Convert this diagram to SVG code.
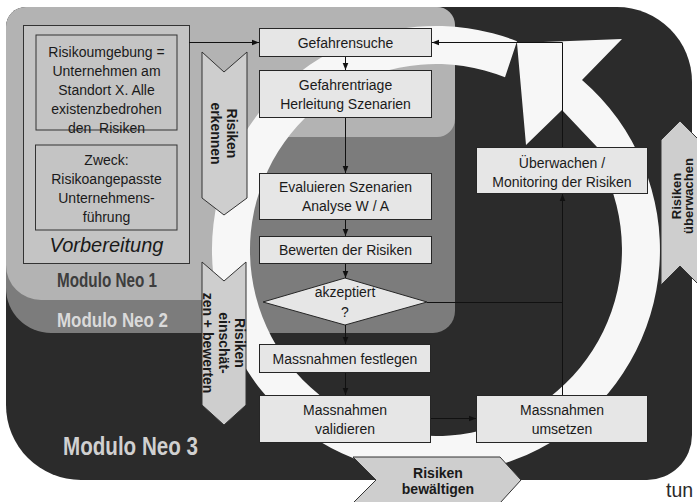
<svg xmlns="http://www.w3.org/2000/svg" width="697" height="502" viewBox="0 0 697 502">
<defs>
<style>
.t{font-family:"Liberation Sans",Arial,sans-serif;font-size:14px;fill:#1a1a1a;text-anchor:middle;dominant-baseline:central}
.b{font-weight:bold}
.box{fill:#e6e6e6;stroke:#262626;stroke-width:1}
.lbox{fill:#c4c4c4;stroke:#333;stroke-width:1}
.chev{fill:#cecece;stroke:#333;stroke-width:1}
.con{fill:none;stroke:#111;stroke-width:1}
.arr{marker-end:url(#ah)}
.neo{font-family:"Liberation Sans",Arial,sans-serif;font-weight:bold}
.ring{fill:#f7f7f7}
</style>
<marker id="ah" viewBox="0 0 10 10" refX="10" refY="5" markerWidth="7" markerHeight="7" orient="auto" markerUnits="userSpaceOnUse">
<path d="M0,1 L10,5 L0,9 Z" fill="#111"/>
</marker>
</defs>
<rect width="697" height="502" fill="#ffffff"/>

<g id="neo3">
<path d="M26,7 H617 A75,75 0 0 1 692,82 V435 A45,45 0 0 1 647,480 H81 A75,75 0 0 1 6,405 V27 A20,20 0 0 1 26,7 Z" fill="#2b2b2b"/>
</g>
<g id="neo2">
<path d="M26,7 H435 A20,20 0 0 1 455,27 V311 A22,22 0 0 1 433,333 H51 A45,45 0 0 1 6,288 V27 A20,20 0 0 1 26,7 Z" fill="#7c7c7c"/>
</g>
<g id="neo1">
<path d="M26,7 H437 A18,18 0 0 1 455,25 V119 A18,18 0 0 1 437,137 H250 V300 H41 A35,35 0 0 1 6,265 V27 A20,20 0 0 1 26,7 Z" fill="#b3b3b3"/>
</g>

<g id="cycle-arrow">
<path class="ring" d="M517,41.2 A224,224 0 1,0 643.2,165 L601.4,165 A186,186 0 1,1 505,77.3 Z"/>
<path class="ring" d="M517,43 L622,39 L582,80 A224,224 0 0,1 643.2,165 L601.4,165 L597,147 L562,110 L526,145 Z"/>
</g>

<g id="labels-neo">
<text class="neo" x="57" y="287" font-size="19.5" textLength="100" lengthAdjust="spacingAndGlyphs" fill="#3d3d3d">Modulo Neo 1</text>
<text class="neo" x="57" y="327" font-size="21" textLength="111" lengthAdjust="spacingAndGlyphs" fill="#dadada">Modulo Neo 2</text>
<text class="neo" x="63" y="455" font-size="25" textLength="135" lengthAdjust="spacingAndGlyphs" fill="#d0d0d0">Modulo Neo 3</text>
</g>

<g id="vorbereitung">
<rect class="lbox" x="23.5" y="25.5" width="166" height="238"/>
<text class="t" x="106.5" y="252" style="font-size:20px;font-style:italic;dominant-baseline:auto">Vorbereitung</text>
</g>
<g id="risikoumgebung">
<rect class="lbox" x="36" y="35" width="141" height="95"/>
<text class="t" x="106.5" y="51.5">Risikoumgebung =</text>
<text class="t" x="106.5" y="70.5">Unternehmen am</text>
<text class="t" x="106.5" y="89.5">Standort X. Alle</text>
<text class="t" x="106.5" y="108.5">existenzbedrohen</text>
<text class="t" x="106.5" y="127.5" xml:space="preserve">den  Risiken</text>
</g>
<g id="zweck">
<rect class="lbox" x="35.5" y="145" width="141.5" height="85"/>
<text class="t" x="106.5" y="159.5">Zweck:</text>
<text class="t" x="106.5" y="178.5">Risikoangepasste</text>
<text class="t" x="106.5" y="197.5">Unternehmens-</text>
<text class="t" x="106.5" y="216.5">führung</text>
</g>

<g id="chev-erkennen">
<path class="chev" d="M202,52 L224,72 L247,52 L247,198 L224,215 L202,198 Z"/>
<g transform="translate(224,133.5) rotate(90)">
<text class="t b" x="0" y="-8">Risiken</text>
<text class="t b" x="0" y="8">erkennen</text>
</g>
</g>
<g id="chev-einschaetzen">
<path class="chev" d="M202,262 L224,281 L246,262 L246,405 L224,425 L202,405 Z"/>
<g transform="translate(224,343) rotate(90)">
<text class="t b" x="0" y="-16">Risiken</text>
<text class="t b" x="0" y="0">einschät-</text>
<text class="t b" x="0" y="16">zen + bewerten</text>
</g>
</g>
<g id="chev-bewaeltigen">
<path class="chev" d="M353,457 L500,457 L521,480 L500,503 L353,503 L376,480 Z"/>
<text class="t b" x="438" y="473">Risiken</text>
<text class="t b" x="438" y="488.5">bewältigen</text>
</g>
<g id="chev-ueberwachen">
<path class="chev" d="M680,121 L699,140 L699,285 L680,266 L661,285 L661,140 Z"/>
<g transform="translate(682,196) rotate(-90)">
<text class="t b" x="0" y="-6" style="font-size:13px">Risiken</text>
<text class="t b" x="0" y="6" style="font-size:13px">überwachen</text>
</g>
</g>

<g id="gefahrensuche">
<rect class="box" x="259.5" y="28.5" width="172" height="28"/>
<text class="t" x="345.5" y="42.5">Gefahrensuche</text>
</g>
<g id="gefahrentriage">
<rect class="box" x="259.5" y="70.5" width="172" height="47"/>
<text class="t" x="345.5" y="84.5">Gefahrentriage</text>
<text class="t" x="345.5" y="103.5">Herleitung Szenarien</text>
</g>
<g id="evaluieren">
<rect class="box" x="259.5" y="173.5" width="172" height="46"/>
<text class="t" x="345.5" y="187">Evaluieren Szenarien</text>
<text class="t" x="345.5" y="206">Analyse W / A</text>
</g>
<g id="bewerten">
<rect class="box" x="259.5" y="236.5" width="172" height="27"/>
<text class="t" x="345.5" y="250">Bewerten der Risiken</text>
</g>
<g id="akzeptiert">
<path class="box" d="M263,302 L345,278 L427,302 L345,325 Z"/>
<text class="t" x="345" y="292">akzeptiert</text>
<text class="t" x="345" y="312">?</text>
</g>
<g id="festlegen">
<rect class="box" x="259.5" y="344.5" width="171" height="28"/>
<text class="t" x="345" y="358.5">Massnahmen festlegen</text>
</g>
<g id="validieren">
<rect class="box" x="259.5" y="395.5" width="171" height="47"/>
<text class="t" x="345" y="409.5">Massnahmen</text>
<text class="t" x="345" y="428.5">validieren</text>
</g>
<g id="umsetzen">
<rect class="box" x="476.5" y="395.5" width="171" height="47"/>
<text class="t" x="562" y="409.5">Massnahmen</text>
<text class="t" x="562" y="428.5">umsetzen</text>
</g>
<g id="ueberwachen">
<rect class="box" x="476.5" y="147.5" width="171" height="46"/>
<text class="t" x="562" y="163">Überwachen /</text>
<text class="t" x="562" y="182">Monitoring der Risiken</text>
</g>

<g id="connectors">
<path class="con arr" d="M189,42.5 H259"/>
<path class="con arr" d="M562.5,147 V42.5 H432"/>
<path class="con arr" d="M345.5,57 V70"/>
<path class="con arr" d="M345.5,118 V173"/>
<path class="con arr" d="M345.5,220 V236"/>
<path class="con arr" d="M345.5,264 V278"/>
<path class="con arr" d="M345.5,325 V344"/>
<path class="con arr" d="M345.5,373 V395"/>
<path class="con arr" d="M431,418.5 H476"/>
<path class="con" d="M427,302.5 H562.5"/>
<path class="con arr" d="M562.5,395 V194"/>
</g>

<text x="666" y="497" style="font-family:'Liberation Sans',Arial,sans-serif;font-size:19.5px;fill:#2a2a2a">tun</text>
</svg>
